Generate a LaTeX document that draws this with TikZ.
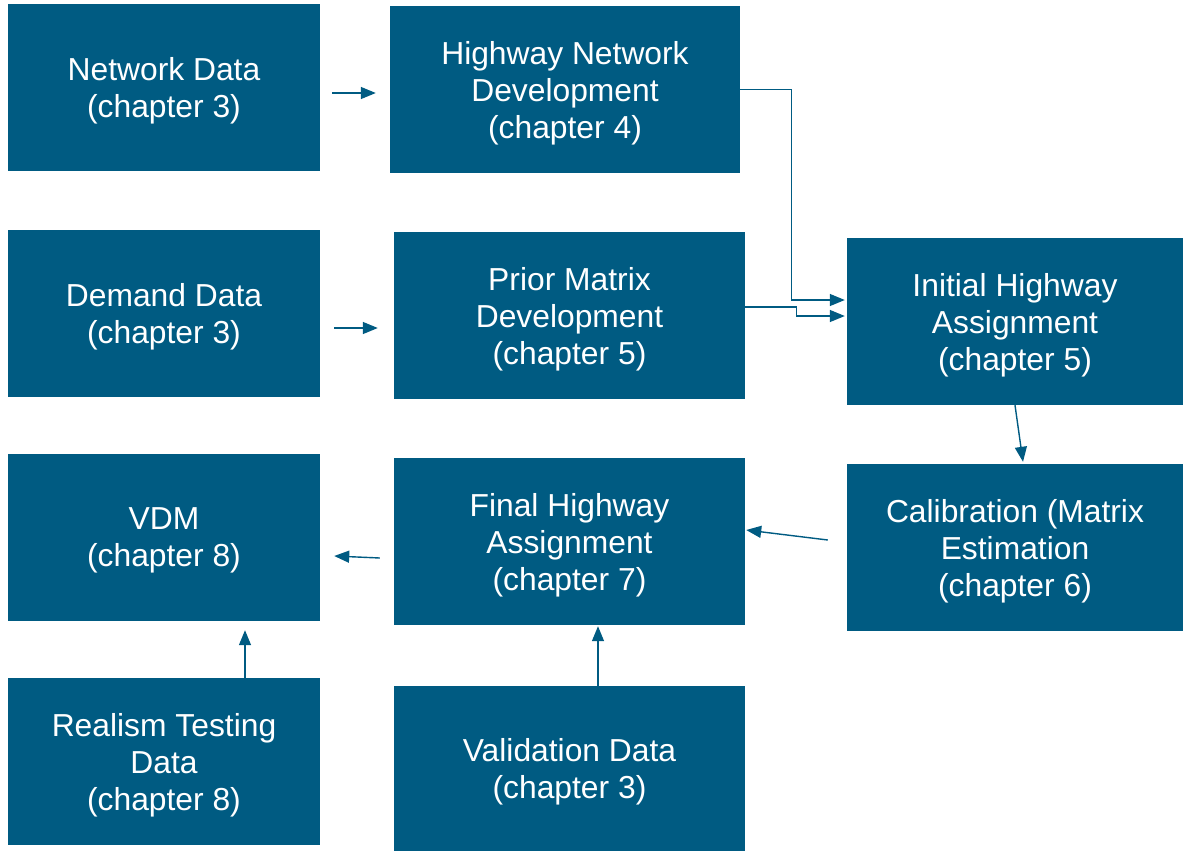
\documentclass[tikz,border=0pt]{standalone}
\usepackage{fontspec}
\setmainfont{Liberation Sans}
\usetikzlibrary{arrows.meta,calc}
\definecolor{boxblue}{RGB}{0,91,130}
\begin{document}
\begin{tikzpicture}[x=1pt, y=-1pt,
		box/.style={rectangle, fill=boxblue, text=white, align=center, inner sep=0pt,
			minimum width=#1, minimum height=167pt, text depth=0pt,
			font=\fontsize{31.8}{37}\selectfont},
		box/.default=312pt,
		link/.style={draw=boxblue, line width=1.4pt, -{Triangle[length=15pt,width=12pt]}}]
		\useasboundingbox (0,0) rectangle (1184,852);

		% Left column: data sources
		\node[box] (nd) at (164,87.5) {Network Data\\(chapter 3)};
		\node[box] (dd) at (164,313.5) {Demand Data\\(chapter 3)};
		\node[box] (vdm) at (164,537.5) {VDM\\(chapter 8)};
		\node[box] (rtd) at (164,761.5) {Realism Testing\\Data\\(chapter 8)};

		% Middle column
		\node[box=350pt] (hnd) at (565,89.5) {Highway Network\\Development\\(chapter 4)};
		\node[box=351pt] (pmd) at (569.5,315.5) {Prior Matrix\\Development\\(chapter 5)};
		\node[box=351pt] (fha) at (569.5,541.5) {Final Highway\\Assignment\\(chapter 7)};
		\node[box=351pt, minimum height=165pt] (vd) at (569.5,768.5) {Validation Data\\(chapter 3)};

		% Right column
		\node[box=336pt] (iha) at (1015,321.5) {Initial Highway\\Assignment\\(chapter 5)};
		\node[box=336pt] (cal) at (1015,547.5) {Calibration (Matrix\\Estimation\\(chapter 6)};

		% Connections
		\draw[link] ([xshift=12pt,yshift=-5.5pt]nd.east) -- ([xshift=-14pt,yshift=-3.5pt]hnd.west);
		\draw[link] ([xshift=14pt,yshift=-14.5pt]dd.east) -- ([xshift=-16pt,yshift=-12.5pt]pmd.west);
		\draw[link] (hnd.east) -- ++(51,0) |- ([xshift=-2pt,yshift=21.5pt]iha.west);
		\draw[link] ([yshift=8.5pt]pmd.east) -- ++(51,0) |- ([xshift=-2pt,yshift=5.5pt]iha.west);
		\draw[link] (iha.south) -- ([xshift=8pt,yshift=2pt]cal.north);
		\draw[link] ([xshift=-19pt,yshift=7.5pt]cal.west) -- ([xshift=1pt,yshift=11.5pt]fha.east);
		\draw[link] ([xshift=-14pt,yshift=-16.5pt]fha.west) -- ([xshift=14pt,yshift=-18.5pt]vdm.east);
		\draw[link] ([xshift=81pt]rtd.north) -- ([xshift=81pt,yshift=-9pt]vdm.south);
		\draw[link] ([xshift=28.5pt]vd.north) -- ([xshift=28.5pt,yshift=-1pt]fha.south);
	\end{tikzpicture}
\end{document}
